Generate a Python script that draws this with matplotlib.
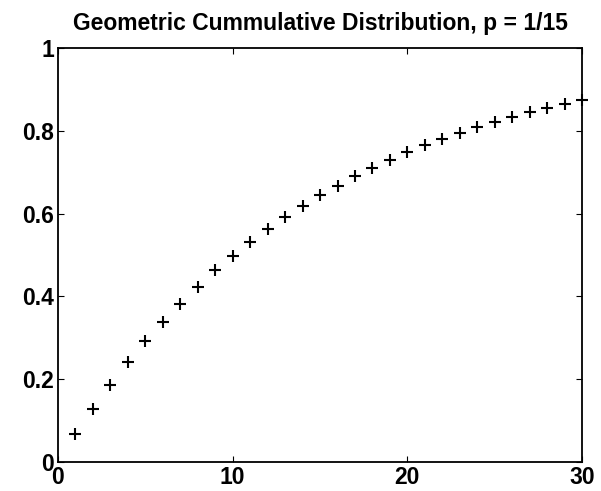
import matplotlib
matplotlib.use('Agg')
import matplotlib.pyplot as plt

# values
trials = list(range(1, 31))
cdf_values = [
    0.067, 0.129, 0.187, 0.241, 0.292, 0.339, 0.383, 0.424, 0.463, 0.498,
    0.532, 0.563, 0.592, 0.619, 0.645, 0.668, 0.691, 0.711, 0.730, 0.748,
    0.765, 0.781, 0.795, 0.809, 0.822, 0.834, 0.845, 0.855, 0.865, 0.874,
]
x_ticks = [0, 10, 20, 30]
y_ticks = [0, 0.2, 0.4, 0.6, 0.8, 1]
y_tick_labels = ['0', '0.2', '0.4', '0.6', '0.8', '1']

plt.rcParams['font.family'] = ['Liberation Sans', 'DejaVu Sans']
plt.rcParams['font.weight'] = 'bold'

fig = plt.figure(figsize=(6.01, 4.91), dpi=100)
ax = fig.add_axes([0.0965, 0.059, 0.872, 0.843])
ax.plot(trials, cdf_values, linestyle='None', marker='+', color='black',
        markersize=9, markeredgewidth=1.5, clip_on=False)

ax.set_xlim(0, 30)
ax.set_ylim(0, 1)
ax.set_xticks(x_ticks)
ax.set_xticklabels([str(t) for t in x_ticks])
ax.set_yticks(y_ticks)
ax.set_yticklabels(y_tick_labels)
ax.tick_params(direction='in', length=4, labelsize=16.5, width=0.8,
               top=True, right=True)
ax.tick_params(axis='x', pad=3)
ax.tick_params(axis='y', pad=3)
for spine in ax.spines.values():
    spine.set_linewidth(1.3)
ax.set_title('Geometric Cummulative Distribution, p = 1/15',
             fontsize=16.5, fontweight='bold', pad=13)

fig.savefig('out.png', dpi=100)
